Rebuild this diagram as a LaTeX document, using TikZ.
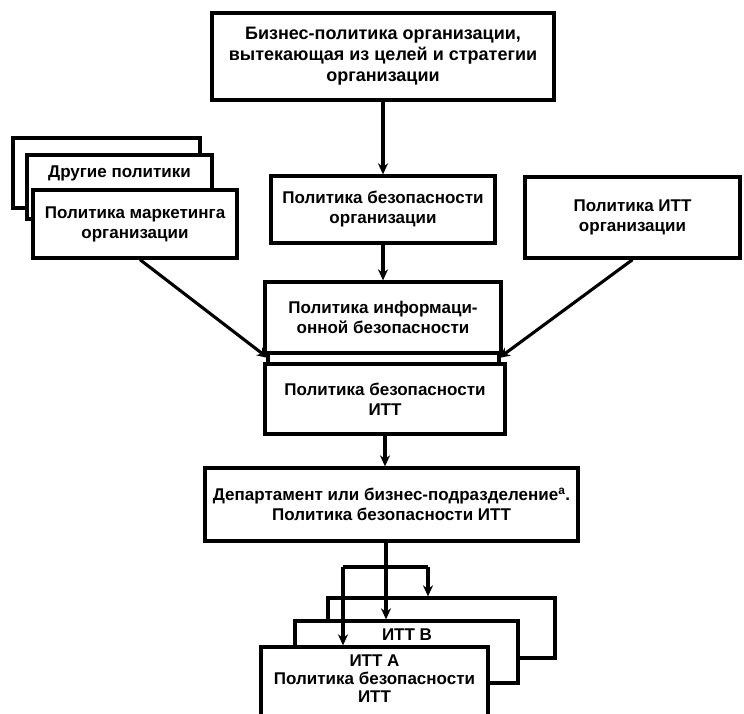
\documentclass[tikz,border=0pt]{standalone}
\usepackage{fontspec}
\setmainfont{Liberation Sans}
\usetikzlibrary{arrows.meta}
\begin{document}
\begin{tikzpicture}[x=1pt,y=-1pt,
  box/.style={draw, line width=3.3pt, fill=white, align=center, inner sep=0pt,
    font=\fontsize{17}{20}\selectfont\bfseries},
  txt/.style={align=center, inner sep=0pt, font=\fontsize{17}{18}\selectfont\bfseries},
  lnk/.style={line width=3.1pt},
  arr/.style={line width=3.1pt, -{Stealth[length=11pt,width=10pt]}}]
\useasboundingbox (0,0) rectangle (744,713);
\clip (0,0) rectangle (744,713);

% top chain
\node[box, minimum width=342pt, minimum height=87pt,
  font=\fontsize{18}{21}\selectfont\bfseries] (top) at (383,56.5)
  {Бизнес-политика организации,\\вытекающая из целей и стратегии\\организации};
\node[box, minimum width=224pt, minimum height=67pt] (sec) at (383,209.5)
  {Политика безопасности\\организации};
\node[box, minimum width=236pt, minimum height=71pt] (info) at (383,317.5)
  {Политика информаци-\\онной безопасности};
\node[box, minimum width=240pt, minimum height=70pt] (ittsec) at (385,399)
  {Политика безопасности\\ИТТ};
\node[box, minimum width=373pt, minimum height=73pt] (dept) at (391.5,504.5)
  {Департамент или бизнес-подразделение\textsuperscript{а}.\\Политика безопасности ИТТ};

% left stack
\node[box, minimum width=187pt, minimum height=70pt] (oth2) at (106.5,173) {};
\node[box, minimum width=185pt, minimum height=64pt] (oth1) at (119.5,187) {};
\node[txt] (othtxt) at (119.5,173) {Другие политики};
\node[box, minimum width=204pt, minimum height=68pt] (mkt) at (135,224)
  {Политика маркетинга\\организации};

% right box
\node[box, minimum width=215pt, minimum height=81pt] (itt) at (632.5,217.5)
  {Политика ИТТ\\организации};

% bottom stack
\node[box, minimum width=227pt, minimum height=60pt] (C) at (441.5,628) {};
\node[box, minimum width=223pt, minimum height=62pt] (B) at (406.5,652) {};
\node[txt] (Btxt) at (407,635) {ИТТ В};
\node[box, minimum width=227pt, minimum height=93pt] (A) at (374.5,693.5) {};
\node[txt] (Atxt) at (374.5,679) {ИТТ А\\Политика безопасности\\ИТТ};

% connectors
\draw[arr] (top.south) -- (sec.north);
\draw[arr] (sec.south) -- (info.north);
\draw[arr] (ittsec.south) -- (ittsec.south |- dept.north);

\coordinate (gl) at (268,358);
\coordinate (gr) at (499,358);
\draw[lnk] (info.south -| gl) -- (ittsec.north -| gl);
\draw[lnk] (info.south -| gr) -- (ittsec.north -| gr);
\draw[arr] ([xshift=5pt]mkt.south) -- (gl);
\draw[arr] (itt.south) -- (gr);

\coordinate (j) at (386,567);
\coordinate (jl) at (343,567);
\coordinate (jr) at (428,567);
\draw[arr] (dept.south -| j) -- (j |- B.north);
\draw[lnk] (jl) -- (jr);
\draw[arr] (jl) -- (jl |- A.north);
\draw[arr] (jr) -- (jr |- C.north);
\end{tikzpicture}
\end{document}
